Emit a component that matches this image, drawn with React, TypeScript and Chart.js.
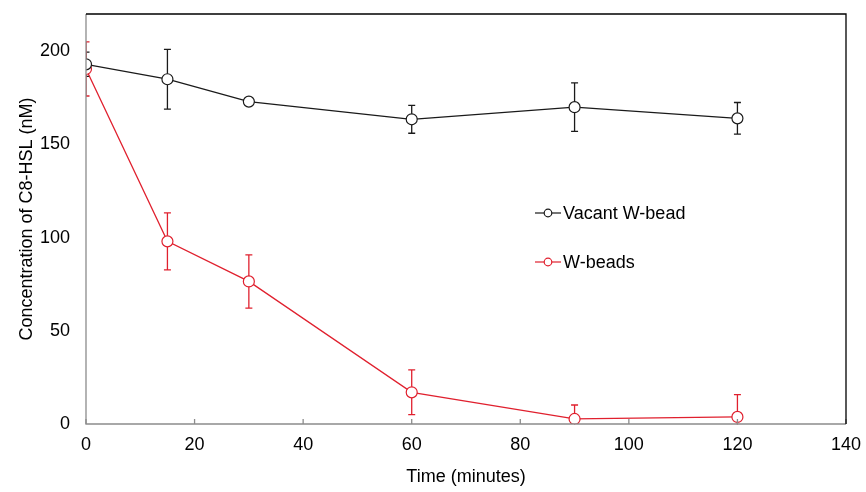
import React, { useEffect, useRef } from "react";
import { Chart, registerables } from "chart.js";

Chart.register(...registerables);

const timeMinutes = [0, 15, 30, 60, 90, 120];
const vacantLabel = "Vacant W-bead";
const vacantValues = [193, 185, 173, 163.5, 170, 164];
const vacantErrors = [6.5, 16, 1.5, 7.5, 13, 8.5];
const beadLabel = "W-beads";
const beadValues = [190.5, 98, 76.5, 17, 2.7, 3.8];
const beadErrors = [14.5, 15.3, 14.3, 12, 7.5, 12];
const xTickValues = [0, 20, 40, 60, 80, 100, 120, 140];
const yTickValues = [0, 50, 100, 150, 200];
const xTitle = "Time (minutes)";
const yTitle = "Concentration of C8-HSL (nM)";

const BLACK = "#1a1a1a";
const RED = "#e0202e";
const AXIS_GRAY = "#8c8c8c";
const FONT = "'Liberation Sans', Arial, sans-serif";

const errorBarPlugin = {
  id: "errorBars",
  beforeDatasetsDraw(chart: any) {
    const { ctx, chartArea, scales } = chart;
    ctx.save();
    ctx.beginPath();
    ctx.rect(chartArea.left, chartArea.top, chartArea.right - chartArea.left, chartArea.bottom - chartArea.top + 0.5);
    ctx.clip();
    chart.data.datasets.forEach((ds: any) => {
      const errs: number[] = ds.errors || [];
      ctx.strokeStyle = ds.borderColor;
      ctx.lineWidth = 1.3;
      ds.data.forEach((p: any, i: number) => {
        const e = errs[i] || 0;
        const x = scales.x.getPixelForValue(p.x);
        const yt = scales.y.getPixelForValue(p.y + e);
        const yb = scales.y.getPixelForValue(p.y - e);
        ctx.beginPath();
        ctx.moveTo(x, yt);
        ctx.lineTo(x, yb);
        ctx.moveTo(x - 3.5, yt);
        ctx.lineTo(x + 3.5, yt);
        ctx.moveTo(x - 3.5, yb);
        ctx.lineTo(x + 3.5, yb);
        ctx.stroke();
      });
    });
    ctx.restore();
  },
};

const framePlugin = {
  id: "frame",
  afterDraw(chart: any) {
    const { ctx, chartArea, scales } = chart;
    const { left, right, top, bottom } = chartArea;
    ctx.save();
    ctx.strokeStyle = AXIS_GRAY;
    ctx.lineWidth = 1.3;
    ctx.beginPath();
    ctx.moveTo(left, top);
    ctx.lineTo(left, bottom);
    ctx.lineTo(right, bottom);
    ctx.stroke();
    ctx.beginPath();
    xTickValues.forEach((v) => {
      const x = scales.x.getPixelForValue(v);
      ctx.moveTo(x, bottom);
      ctx.lineTo(x, bottom - 5);
    });
    ctx.stroke();
    ctx.strokeStyle = "#000";
    ctx.beginPath();
    ctx.moveTo(left, top);
    ctx.lineTo(right, top);
    ctx.lineTo(right, bottom);
    ctx.stroke();
    ctx.restore();
  },
};

const legendPlugin = {
  id: "customLegend",
  afterDraw(chart: any) {
    const { ctx, chartArea } = chart;
    const x0 = chartArea.left + 449;
    const ys = [chartArea.top + 199, chartArea.top + 248];
    ctx.save();
    chart.data.datasets.forEach((ds: any, i: number) => {
      const y = ys[i];
      ctx.strokeStyle = ds.borderColor;
      ctx.lineWidth = 1.2;
      ctx.beginPath();
      ctx.moveTo(x0, y);
      ctx.lineTo(x0 + 26, y);
      ctx.stroke();
      ctx.beginPath();
      ctx.arc(x0 + 13, y, 3.8, 0, Math.PI * 2);
      ctx.fillStyle = "#fff";
      ctx.fill();
      ctx.stroke();
      ctx.fillStyle = "#000";
      ctx.font = `18px ${FONT}`;
      ctx.textBaseline = "middle";
      ctx.textAlign = "left";
      ctx.fillText(ds.label, x0 + 28, y + 1);
    });
    ctx.restore();
  },
};

export default function App() {
  const canvasRef = useRef<HTMLCanvasElement | null>(null);

  useEffect(() => {
    document.body.style.margin = "0";
    const canvas = canvasRef.current;
    if (!canvas) return;
    const chart = new Chart(canvas, {
      type: "line",
      data: {
        datasets: [
          {
            label: vacantLabel,
            data: timeMinutes.map((t, i) => ({ x: t, y: vacantValues[i] })),
            errors: vacantErrors,
            borderColor: BLACK,
            backgroundColor: "#fff",
            borderWidth: 1.3,
            pointRadius: 5.5,
            pointBorderWidth: 1.2,
            pointBackgroundColor: "#fff",
            pointBorderColor: BLACK,
            tension: 0,
          } as any,
          {
            label: beadLabel,
            data: timeMinutes.map((t, i) => ({ x: t, y: beadValues[i] })),
            errors: beadErrors,
            borderColor: RED,
            backgroundColor: "#fff",
            borderWidth: 1.3,
            pointRadius: 5.5,
            pointBorderWidth: 1.2,
            pointBackgroundColor: "#fff",
            pointBorderColor: RED,
            tension: 0,
          } as any,
        ],
      },
      options: {
        animation: false,
        responsive: true,
        maintainAspectRatio: false,
        layout: { padding: { top: 14, right: 20, left: 0, bottom: 0 } },
        plugins: {
          legend: { display: false },
          tooltip: { enabled: false },
        },
        scales: {
          x: {
            type: "linear",
            min: 0,
            max: 140,
            afterBuildTicks: (scale: any) => {
              scale.ticks = xTickValues.map((v) => ({ value: v }));
            },
            afterFit: (scale: any) => {
              scale.height = 68;
              scale.paddingLeft = 0;
              scale.paddingRight = 0;
            },
            grid: { display: false, drawTicks: false },
            border: { display: false },
            ticks: {
              padding: 10,
              color: "#000",
              font: { family: FONT, size: 18 },
              maxRotation: 0,
            },
            title: {
              display: true,
              text: xTitle,
              color: "#000",
              font: { family: FONT, size: 18 },
              padding: { top: 4, bottom: 4 },
            },
          },
          y: {
            type: "linear",
            min: 0,
            max: 220,
            afterBuildTicks: (scale: any) => {
              scale.ticks = yTickValues.map((v) => ({ value: v }));
            },
            afterFit: (scale: any) => {
              scale.width = 86;
              scale.paddingTop = 0;
              scale.paddingBottom = 0;
            },
            grid: { display: false, drawTicks: false },
            border: { display: false },
            ticks: {
              padding: 16,
              color: "#000",
              font: { family: FONT, size: 18 },
            },
            title: {
              display: true,
              text: yTitle,
              color: "#000",
              font: { family: FONT, size: 18 },
              padding: { top: 16, bottom: 4 },
            },
          },
        },
      } as any,
      plugins: [errorBarPlugin, framePlugin, legendPlugin],
    });
    return () => chart.destroy();
  }, []);

  return (
    <div style={{ width: 866, height: 492, position: "relative", background: "#fff" }}>
      <canvas ref={canvasRef} />
    </div>
  );
}
